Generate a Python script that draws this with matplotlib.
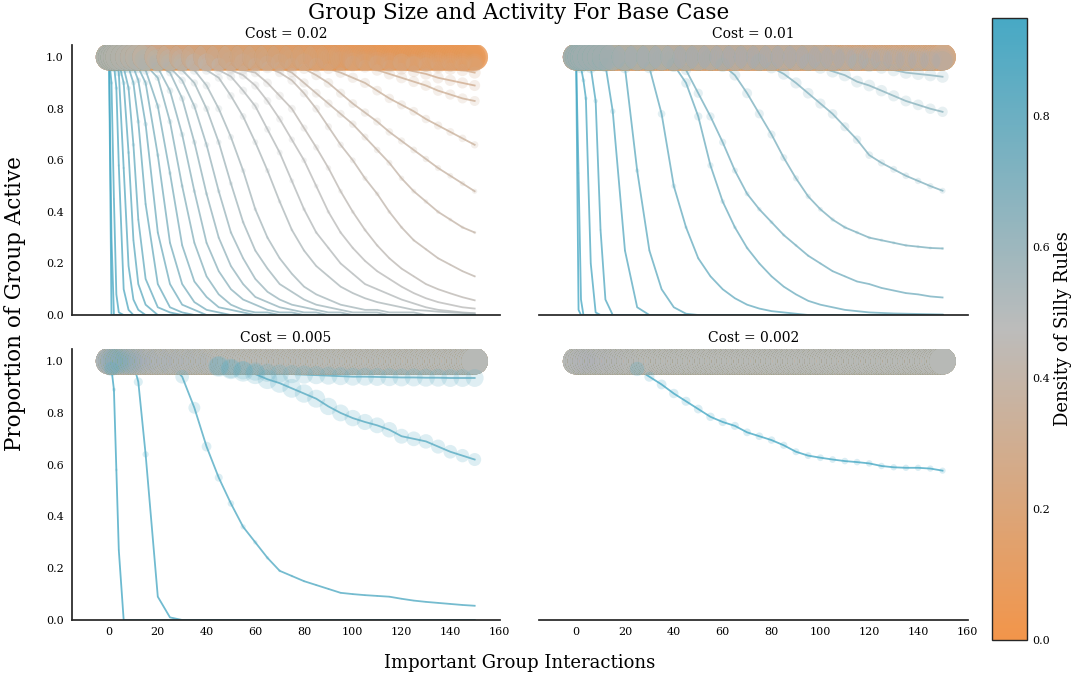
# group size / activity facets

from matplotlib import rcParams
from matplotlib.pyplot import figure, close
import matplotlib.cm as cm
import matplotlib.colors as mc

rcParams['font.family'] = 'serif'
rcParams['font.serif'] = ['DejaVu Serif']

## ---- data ----
## every interaction step (for lines that never leave 1.0)
x_step = list(range(151))
## interaction steps the falling lines were read at
x_int = [0,1,2,3,4,6,8,10,12,15,
	20,25,30,35,40,45,50,55,60,65,70,75,80,85,90,95,100,105,110,115,120,125,130,135,140,145,150]

## density of silly rules, one per line
dens = [0.,.025,.05,.075,.1,.125,.15,.175,.2,.225,.25,.275,.3,.325,.35,.375,.4,.425,.45,.475,
	.5,.525,.55,.575,.6,.625,.65,.675,.7,.725,.75,.775,.8,.825,.85,.875,.9,.925,.95]

## all groups active at every step
flat = [1,1,1,1,1,1,1,1,1,1,1,1,1,1,1,1,1,1,1,1,1,1,1,1,1,
	1,1,1,1,1,1,1,1,1,1,1,1,1,1,1,1,1,1,1,1,1,1,1,1,1,
	1,1,1,1,1,1,1,1,1,1,1,1,1,1,1,1,1,1,1,1,1,1,1,1,1,
	1,1,1,1,1,1,1,1,1,1,1,1,1,1,1,1,1,1,1,1,1,1,1,1,1,
	1,1,1,1,1,1,1,1,1,1,1,1,1,1,1,1,1,1,1,1,1,1,1,1,1,
	1,1,1,1,1,1,1,1,1,1,1,1,1,1,1,1,1,1,1,1,1,1,1,1,1,1]

## cost = 0.02
act_002 = [flat,flat,flat,flat,flat,
	[1,1,1,1,1,1,1,1,1,1, 1,1,1,1,1,1,1,1,1,1,1,1,1,1,1,1,1,1,1,1,.999,.998,.997,.996,.996,.995,.995],
	[1,1,1,1,1,1,1,1,1,1, 1,1,1,1,1,1,1,1,1,1,1,1,1,1,1,1,1,.999,.998,.997,.996,.995,.994,.993,.992,.991,.99],
	[1,1,1,1,1,1,1,1,1,1, 1,1,1,1,1,1,1,1,1,1,1,1,1,1,1,.998,.996,.995,.994,.992,.991,.99,.989,.988,.987,.986,.985],
	[1,1,1,1,1,1,1,1,1,1, 1,1,1,1,1,1,1,1,1,1,1,1,1,.998,.996,.994,.992,.99,.989,.988,.986,.985,.984,.983,.982,.981,.98],
	[1,1,1,1,1,1,1,1,1,1, 1,1,1,1,1,1,1,1,1,1,1,1,.998,.995,.993,.99,.988,.986,.984,.982,.98,.979,.978,.977,.976,.975,.975],
	[1,1,1,1,1,1,1,1,1,1, 1,1,1,1,1,1,1,1,1,1,1,.997,.994,.991,.988,.985,.982,.98,.978,.976,.974,.973,.972,.971,.97,.97,.97],
	[1,1,1,1,1,1,1,1,1,1, 1,1,1,1,1,1,1,1,1,1,1,1,1,1,1,1,1,1,.99,.985,.98,.975,.97,.96,.955,.95,.94],
	[1,1,1,1,1,1,1,1,1,1, 1,1,1,1,1,1,1,1,1,1,1,1,1,1,1,1,.99,.985,.975,.965,.955,.945,.935,.92,.91,.9,.89],
	[1,1,1,1,1,1,1,1,1,1, 1,1,1,1,1,1,1,1,1,1,1,1,1,1,.99,.985,.975,.965,.95,.935,.92,.905,.89,.87,.855,.84,.83],
	[1,1,1,1,1,1,1,1,1,1, 1,1,1,1,1,1,1,1,1,1,1,.99,.98,.97,.955,.94,.92,.9,.87,.84,.815,.79,.76,.735,.71,.685,.66],
	[1,1,1,1,1,1,1,1,1,1, 1,1,1,1,1,1,1,1,1,.99,.98,.97,.955,.93,.9,.86,.82,.785,.75,.71,.675,.64,.605,.57,.54,.51,.48],
	[1,1,1,1,1,1,1,1,1,1, 1,1,1,1,1,1,1,.99,.985,.975,.96,.94,.9,.86,.82,.78,.74,.69,.64,.59,.53,.48,.44,.4,.37,.34,.32],
	[1,1,1,1,1,1,1,1,1,1, 1,1,1,1,1,.99,.985,.98,.97,.96,.94,.91,.86,.8,.73,.66,.6,.53,.47,.4,.34,.29,.255,.22,.195,.17,.15],
	[1,1,1,1,1,1,1,1,1,1, 1,1,.99,.99,.98,.97,.96,.95,.94,.9,.85,.8,.725,.65,.57,.48,.4,.33,.27,.22,.18,.15,.12,.1,.084,.069,.057],
	[1,1,1,1,1,1,1,1,1,1, 1,.99,.99,.98,.98,.97,.95,.93,.89,.83,.76,.68,.6,.5,.4,.32,.26,.21,.17,.14,.11,.085,.065,.05,.04,.03,.025],
	[1,1,1,1,1,1,1,1,1,1, 1,.99,.99,.98,.97,.95,.925,.87,.81,.72,.63,.52,.41,.32,.26,.2,.16,.12,.1,.08,.06,.045,.03,.02,.015,.01,.007],
	[1,1,1,1,1,1,1,1,1,1, .99,.99,.98,.97,.95,.92,.85,.77,.67,.56,.44,.33,.25,.19,.15,.11,.085,.065,.05,.04,.03,.02,.017,.013,.01,.008,.006],
	[1,1,1,1,1,1,1,1,1,1, .99,.98,.97,.95,.89,.8,.69,.56,.41,.3,.22,.16,.11,.08,.06,.04,.03,.02,.02,.01,.01,.01,0,0,0,0,0],
	[1,1,1,1,1,1,1,1,1,.99, .99,.97,.95,.9,.8,.67,.51,.36,.25,.18,.12,.09,.06,.04,.03,.02,.01,.01,.01,0,0,0,0,0,0,0,0],
	[1,1,1,1,1,1,1,1,1,.99, .98,.96,.91,.81,.66,.48,.32,.22,.14,.09,.06,.04,.03,.02,.01,.01,0,0,0,0,0,0,0,0,0,0,0],
	[1,1,1,1,1,1,1,1,.99,.99, .97,.94,.84,.67,.47,.3,.19,.12,.07,.05,.03,.02,.01,.01,0,0,0,0,0,0,0,0,0,0,0,0,0],
	[1,1,1,1,1,1,1,.99,.99,.98, .96,.87,.7,.48,.28,.17,.1,.06,.04,.02,.01,.01,0,0,0,0,0,0,0,0,0,0,0,0,0,0,0],
	[1,1,1,1,1,1,1,.99,.99,.97, .92,.75,.5,.28,.15,.08,.04,.02,.01,.01,0,0,0,0,0,0,0,0,0,0,0,0,0,0,0,0,0],
	[1,1,1,1,1,1,.99,.99,.98,.95, .81,.55,.27,.13,.07,.03,.02,.01,0,0,0,0,0,0,0,0,0,0,0,0,0,0,0,0,0,0,0],
	[1,1,1,1,1,1,.99,.98,.96,.9, .62,.28,.12,.05,.02,.01,0,0,0,0,0,0,0,0,0,0,0,0,0,0,0,0,0,0,0,0,0],
	[1,1,1,1,1,.99,.98,.96,.91,.74, .32,.12,.04,.02,0,0,0,0,0,0,0,0,0,0,0,0,0,0,0,0,0,0,0,0,0,0,0],
	[1,1,1,1,.99,.98,.96,.9,.75,.43, .12,.03,.01,0,0,0,0,0,0,0,0,0,0,0,0,0,0,0,0,0,0,0,0,0,0,0,0],
	[1,1,1,1,.99,.96,.88,.66,.37,.14, .03,.01,0,0,0,0,0,0,0,0,0,0,0,0,0,0,0,0,0,0,0,0,0,0,0,0,0],
	[1,1,1,.99,.98,.9,.63,.29,.12,.04, 0,0,0,0,0,0,0,0,0,0,0,0,0,0,0,0,0,0,0,0,0,0,0,0,0,0,0],
	[1,1,.99,.98,.94,.57,.19,.06,.02,0, 0,0,0,0,0,0,0,0,0,0,0,0,0,0,0,0,0,0,0,0,0,0,0,0,0,0,0],
	[1,1,.97,.88,.58,.1,.02,0,0,0, 0,0,0,0,0,0,0,0,0,0,0,0,0,0,0,0,0,0,0,0,0,0,0,0,0,0,0],
	[1,.9,.45,.08,.01,0,0,0,0,0, 0,0,0,0,0,0,0,0,0,0,0,0,0,0,0,0,0,0,0,0,0,0,0,0,0,0,0],
	[1,.3,0,0,0,0,0,0,0,0, 0,0,0,0,0,0,0,0,0,0,0,0,0,0,0,0,0,0,0,0,0,0,0,0,0,0,0],
	[1,0,0,0,0,0,0,0,0,0, 0,0,0,0,0,0,0,0,0,0,0,0,0,0,0,0,0,0,0,0,0,0,0,0,0,0,0],
]
## marker scale of the falling lines (0 = line stays near 1)
gsize_002 = [0,0,0,0,0,0,0,0,0,0,0,85,80,75,65,60,55,50,50,45,
	45,40,40,35,35,30,30,25,25,20,20,15,15,12,10,8,6,4,3]

## cost = 0.01 : a few lines sag just under 1.0 late on
sag_a = [1,1,1,1,1,1,1,1,1,1, 1,1,1,1,1,1,1,1,1,1,1,1,1,1,1,1,.999,.998,.998,.997,.997,.996,.996,.995,.995,.995,.995]
sag_b = [1,1,1,1,1,1,1,1,1,1, 1,1,1,1,1,1,1,1,1,1,1,1,1,1,1,1,.999,.997,.996,.995,.994,.993,.992,.992,.991,.99,.99]
sag_c = [1,1,1,1,1,1,1,1,1,1, 1,1,1,1,1,1,1,1,1,1,1,1,1,1,1,.999,.997,.995,.993,.992,.99,.989,.988,.987,.986,.985,.985]
act_001 = [flat,flat,flat,flat,flat,flat,flat,flat,flat,flat,flat,flat,flat,flat,
	sag_a,sag_a,sag_a,sag_a,sag_b,sag_b,sag_b,sag_b,sag_c,sag_c,sag_c,sag_c,
	[1,1,1,1,1,1,1,1,1,1, 1,1,1,1,1,1,1,1,1,1,1,1,1,1,1,1,1,1,.99,.98,.97,.96,.95,.94,.935,.93,.924],
	[1,1,1,1,1,1,1,1,1,1, 1,1,1,1,1,1,1,1,1,1,1,1,1,1,.99,.98,.96,.945,.93,.905,.89,.87,.85,.83,.815,.8,.788],
	[1,1,1,1,1,1,1,1,1,1, 1,1,1,1,1,1,1,1,1,1,.99,.98,.96,.935,.9,.86,.82,.78,.73,.68,.62,.59,.565,.54,.52,.5,.482],
	[1,1,1,1,1,1,1,1,1,1, 1,1,1,1,1,1,1,.99,.97,.93,.86,.78,.7,.61,.53,.46,.41,.37,.34,.32,.3,.29,.28,.27,.265,.26,.258],
	[1,1,1,1,1,1,1,1,1,1, 1,1,1,1,.99,.95,.86,.77,.67,.56,.47,.41,.36,.31,.27,.23,.2,.17,.15,.13,.12,.105,.095,.085,.08,.072,.068],
	[1,1,1,1,1,1,1,1,1,1, 1,1,1,.99,.97,.9,.77,.58,.44,.34,.26,.2,.15,.11,.08,.055,.04,.03,.02,.015,.01,.008,.006,.005,.004,.003,.002],
	[1,1,1,1,1,1,1,1,1,1, 1,.99,.96,.78,.5,.34,.22,.15,.1,.065,.04,.025,.015,.01,.005,0,0,0,0,0,0,0,0,0,0,0,0],
	[1,1,1,1,1,1,1,1,1,.99, .96,.56,.25,.1,.03,.005,0,0,0,0,0,0,0,0,0,0,0,0,0,0,0,0,0,0,0,0,0],
	[1,1,1,1,1,1,1,.98,.97,.79, .25,.03,0,0,0,0,0,0,0,0,0,0,0,0,0,0,0,0,0,0,0,0,0,0,0,0,0],
	[1,1,1,1,.99,.96,.83,.33,.06,0, 0,0,0,0,0,0,0,0,0,0,0,0,0,0,0,0,0,0,0,0,0,0,0,0,0,0,0],
	[1,1,.96,.91,.84,.2,.01,0,0,0, 0,0,0,0,0,0,0,0,0,0,0,0,0,0,0,0,0,0,0,0,0,0,0,0,0,0,0],
	[1,.55,.06,0,0,0,0,0,0,0, 0,0,0,0,0,0,0,0,0,0,0,0,0,0,0,0,0,0,0,0,0,0,0,0,0,0,0],
	[1,.02,0,0,0,0,0,0,0,0, 0,0,0,0,0,0,0,0,0,0,0,0,0,0,0,0,0,0,0,0,0,0,0,0,0,0,0],
]
gsize_001 = [0,0,0,0,0,0,0,0,0,0,0,0,0,0,0,0,0,0,0,0,
	0,0,0,0,0,0,90,90,80,70,60,60,50,30,25,15,10,5,3]

## cost = 0.005
act_0005 = [flat,flat,flat,flat,flat,flat,flat,flat,flat,flat,flat,flat,flat,flat,flat,flat,flat,
	flat,flat,flat,flat,flat,flat,flat,flat,flat,flat,flat,flat,flat,flat,flat,flat,flat,
	[1,1,1,1,1,1,1,1,1,1, 1,1,1,1,.99,.98,.97,.965,.96,.955,.952,.95,.948,.946,.944,.942,.94,.94,.939,.938,.937,.937,.936,.936,.935,.935,.935],
	[1,1,1,1,1,1,1,1,1,1, 1,1,1,1,.99,.98,.97,.96,.95,.93,.915,.895,.875,.855,.825,.8,.78,.765,.752,.735,.71,.7,.69,.67,.65,.635,.62],
	[1,1,1,1,1,1,1,1,1,1, 1,.99,.94,.82,.67,.55,.45,.36,.3,.24,.19,.17,.15,.135,.12,.105,.1,.096,.093,.09,.082,.075,.07,.066,.062,.058,.055],
	[1,1,1,1,1,1,1,.99,.92,.64, .09,.01,0,0,0,0,0,0,0,0,0,0,0,0,0,0,0,0,0,0,0,0,0,0,0,0,0],
	[1,.97,.89,.58,.27,0,0,0,0,0, 0,0,0,0,0,0,0,0,0,0,0,0,0,0,0,0,0,0,0,0,0,0,0,0,0,0,0],
]
gsize_0005 = [0,0,0,0,0,0,0,0,0,0,0,0,0,0,0,0,0,0,0,0,
	0,0,0,0,0,0,0,0,0,0,0,0,0,0,190,230,110,50,10]

## cost = 0.002
act_0002 = [flat,flat,flat,flat,flat,flat,flat,flat,flat,flat,flat,flat,flat,flat,flat,flat,flat,flat,flat,
	flat,flat,flat,flat,flat,flat,flat,flat,flat,flat,flat,flat,flat,flat,flat,flat,flat,flat,flat,
	[1,1,1,1,1,1,1,1,1,1, 1,.97,.94,.91,.875,.845,.815,.785,.765,.75,.725,.71,.695,.675,.65,.635,.627,.62,.614,.61,.605,.595,.59,.588,.588,.585,.577],
]
gsize_0002 = [0,0,0,0,0,0,0,0,0,0,0,0,0,0,0,0,0,0,0,0,
	0,0,0,0,0,0,0,0,0,0,0,0,0,0,0,0,0,0,60]

costs = ['0.02','0.01','0.005','0.002']
acts = [act_002,act_001,act_0005,act_0002]
gsizes = [gsize_002,gsize_001,gsize_0005,gsize_0002]


## ---- plot ----
cmap = mc.LinearSegmentedColormap.from_list('silly',['#f2954a','#bcbcbb','#47a9c5'])
norm = mc.Normalize(0.,.95)
fs = 13.

fig = figure(figsize=(10.73,6.77),dpi=100.)

## axes boxes (left, bottom, width, height)
boxes = [[.0671,.5347,.3989,.3988],[.5023,.5347,.3998,.3988],
		 [.0671,.0842,.3989,.4003],[.5023,.0842,.3998,.4003]]

## draw order inside one step: outer densities first, middle ones last
_n = len(dens)
order = []
for _k in range(_n//2): order += [_k,_n-1-_k]
order += [_n//2]
rank = {_j:_r for _r,_j in enumerate(order)}

def _msize(_y,_g,_d):
	## big while the whole group is active, then the line's own scale
	_band = 370. if _d<=.05 else 360.
	return max(_band*_y**40,_g*_y**2)

def _scatter(ax,pts):
	pts.sort(key=lambda p:(p[0],p[1]))
	ax.scatter([p[0] for p in pts],[p[2] for p in pts],s=[p[3] for p in pts],c=[p[4] for p in pts],
			   alpha=[p[5] for p in pts],lw=0,zorder=2)

def _plot_panel(ax,act,gsize,cost,left_col,bot_row):

	## lines never leaving 1.0 vs lines read at x_int
	n_flat = sum(1 for _y in act if len(_y)==len(x_step))
	n_top = [sum(1 for _y in act if len(_y)==len(x_int) and _y[_i]>=.985) for _i in range(len(x_int))]

	pts_flat, pts_fall = [], []
	for _j,(_d,_y) in enumerate(zip(dens,act)):
		_x = x_step if len(_y)==len(x_step) else x_int
		if len(_y)!=len(_x): raise ValueError(f'cost {cost}, density {_d}: {len(_y)} values')
		ax.plot(_x,_y,color=cmap(norm(_d)),lw=1.3,alpha=.8,zorder=1)
		_c = cmap(norm(_d))
		for _i,(_xx,_yy) in enumerate(zip(_x,_y)):
			_s = _msize(_yy,gsize[_j],_d)
			if _x is x_step:
				pts_flat.append((_xx,rank[_j],_yy,_s,_c,.3))
			else:
				## inside the top band: fade by the share of lines still there
				if _yy>=.985:
					_a = .005+.1*n_top[_i]/(n_top[_i]+n_flat)
				else:
					_a = .2
				pts_fall.append((_xx,rank[_j],_yy,_s,_c,_a))

	## markers: lines that never fall first, then the falling ones on top
	if pts_flat: _scatter(ax,pts_flat)
	if pts_fall: _scatter(ax,pts_fall)

	ax.set(xlim=(-15.2,160.4),ylim=(0,1.047),xticks=range(0,161,20),yticks=[0,.2,.4,.6,.8,1.])
	ax.set_title(f'Cost = {cost}',fontsize=fs-3.,pad=5)
	ax.tick_params(length=0,labelsize=fs-5.)
	ax.tick_params(axis='y',pad=6)
	ax.tick_params(axis='x',pad=5)
	for _s in ['top','right']: ax.spines[_s].set_visible(False)
	for _s in ['left','bottom']:
		ax.spines[_s].set_color('#262626')
		ax.spines[_s].set_linewidth(1.25)
	if not left_col:
		ax.spines['left'].set_visible(False)
		ax.set_yticklabels([])
	else:
		ax.set_yticklabels(['0.0','0.2','0.4','0.6','0.8','1.0'])
	if not bot_row: ax.set_xticklabels([])

for _k,(_box,_act,_g,_c) in enumerate(zip(boxes,acts,gsizes,costs)):
	ax = fig.add_axes(_box)
	_plot_panel(ax,_act,_g,_c,_k%2==0,_k>=2)

## colorbar
cax = fig.add_axes([.9245,.0547,.0326,.9188])
cb = fig.colorbar(cm.ScalarMappable(norm=norm,cmap=cmap),cax=cax)
cb.set_ticks([0.,.2,.4,.6,.8])
cb.ax.tick_params(length=0,labelsize=fs-5.,pad=4)
cb.outline.set_linewidth(1.)
cb.outline.set_edgecolor('#262626')
cb.set_label('Density of Silly Rules',fontsize=fs,labelpad=3)

fig.text(.4837,.981,'Group Size and Activity For Base Case',ha='center',va='center',fontsize=fs+2.5)
fig.text(.4846,.0207,'Important Group Interactions',ha='center',va='center',fontsize=fs)
fig.text(.014,.552,'Proportion of Group Active',ha='center',va='center',rotation=90,fontsize=fs+2.5)

fig.savefig('out.png',dpi=100.)
close()
